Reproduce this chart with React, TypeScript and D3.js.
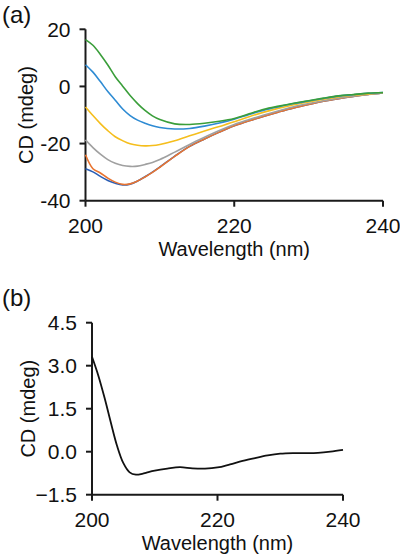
import React from "react";
import * as d3 from "d3";

const wlA = [200, 201, 202, 203, 204, 205, 206, 207, 208, 209, 210, 212, 214, 216, 218, 220, 222, 224, 226, 228, 230, 232, 234, 236, 238, 240];
const darkBlue = [-28.8, -29.9, -31.5, -32.9, -33.9, -34.5, -34.2, -33.1, -31.6, -30.0, -28.2, -24.4, -21.0, -18.4, -16.0, -13.8, -12.0, -10.4, -8.9, -7.5, -6.3, -5.2, -4.3, -3.5, -2.8, -2.3];
const orange = [-23.9, -28.8, -30.3, -32.1, -33.5, -34.3, -34.1, -33.1, -31.7, -30.1, -28.3, -24.5, -21.0, -18.4, -16.0, -13.8, -12.0, -10.4, -8.9, -7.5, -6.3, -5.2, -4.3, -3.5, -2.8, -2.3];
const gray = [-18.7, -21.4, -23.7, -25.6, -26.9, -27.7, -28.0, -27.9, -27.3, -26.6, -25.6, -23.0, -20.3, -17.8, -15.4, -13.3, -11.6, -10.0, -8.5, -7.1, -6.0, -5.0, -4.1, -3.4, -2.8, -2.3];
const yellow = [-7.2, -10.2, -13.0, -15.5, -17.6, -19.0, -20.1, -20.6, -20.8, -20.7, -20.3, -19.0, -17.3, -15.6, -14.0, -12.4, -10.6, -9.0, -7.6, -6.4, -5.4, -4.5, -3.7, -3.1, -2.6, -2.2];
const lightBlue = [7.6, 5.0, 1.7, -1.8, -4.8, -7.9, -10.2, -11.8, -12.9, -13.8, -14.4, -14.9, -14.7, -13.9, -12.8, -11.5, -9.8, -8.3, -7.1, -6.0, -5.1, -4.2, -3.4, -2.9, -2.4, -2.1];
const green = [16.4, 14.4, 11.2, 7.5, 3.4, 0.1, -3.2, -6.0, -8.4, -10.3, -11.6, -13.1, -13.3, -12.9, -12.2, -11.2, -9.6, -8.0, -6.9, -5.9, -5.0, -4.1, -3.3, -2.8, -2.35, -2.1];

const seriesA = [
  { name: "s1", values: darkBlue, color: "#2c5fb5" },
  { name: "s2", values: orange, color: "#e87430" },
  { name: "s3", values: gray, color: "#a0a0a0" },
  { name: "s4", values: yellow, color: "#f5be1d" },
  { name: "s5", values: lightBlue, color: "#2e8bd3" },
  { name: "s6", values: green, color: "#3a9e3a" },
];

const wlB = [200, 201, 202, 203, 204, 205, 206, 207, 208, 209, 210, 212, 214, 216, 218, 220, 222, 224, 226, 228, 230, 232, 234, 236, 238, 240];
const diffB = [3.31, 2.66, 1.88, 1.02, 0.2, -0.4, -0.72, -0.8, -0.77, -0.71, -0.66, -0.59, -0.54, -0.58, -0.59, -0.55, -0.44, -0.32, -0.22, -0.13, -0.07, -0.05, -0.05, -0.04, 0.0, 0.06];

const xTicks = [200, 220, 240];
const yTicksA = [-40, -20, 0, 20];
const yTicksB = [-1.5, 0, 1.5, 3.0, 4.5];

const FONT = "'Liberation Sans', Arial, sans-serif";
const AX = "#1a1a1a";

function Panel({ xs, ys, yTicks, fmt, letter, letterY, titleCx, children }: any) {
  const [x0, x1] = xs.range();
  const [y0, y1] = ys.range();
  return (
    <g>
      <text x={2} y={letterY} fontSize={24} fontFamily={FONT} fill="#111">{letter}</text>
      <line x1={x0} x2={x0} y1={y1} y2={y0} stroke={AX} strokeWidth={2} />
      <line x1={x0} x2={x1} y1={y0} y2={y0} stroke={AX} strokeWidth={2} />
      {yTicks.map((t: number) => (
        <g key={"y" + t}>
          <line x1={x0 - 6} x2={x0} y1={ys(t)} y2={ys(t)} stroke={AX} strokeWidth={2} />
          <text x={x0 - 15} y={ys(t)} dy="0.35em" textAnchor="end" fontSize={21} fontFamily={FONT} fill="#111">{fmt(t)}</text>
        </g>
      ))}
      {xTicks.map((t) => (
        <g key={"x" + t}>
          <line x1={xs(t)} x2={xs(t)} y1={y0} y2={y0 + 6} stroke={AX} strokeWidth={2} />
          <text x={xs(t)} y={y0 + 32} textAnchor="middle" fontSize={21} fontFamily={FONT} fill="#111">{t}</text>
        </g>
      ))}
      <text x={(x0 + x1) / 2} y={y0 + 55} textAnchor="middle" fontSize={20} fontFamily={FONT} fill="#111">Wavelength (nm)</text>
      <text transform={`translate(${titleCx},${(y0 + y1) / 2}) rotate(-90)`} textAnchor="middle" fontSize={20} fontFamily={FONT} fill="#111">CD (mdeg)</text>
      {children}
    </g>
  );
}

export default function App() {
  const xA = d3.scaleLinear().domain([200, 240]).range([85.5, 383]);
  const yA = d3.scaleLinear().domain([-40, 20]).range([200.7, 29.3]);
  const xB = d3.scaleLinear().domain([200, 240]).range([92, 343]);
  const yB = d3.scaleLinear().domain([-1.5, 4.5]).range([494.7, 322.7]);

  const curve = d3.curveCatmullRom.alpha(0.5);
  const lineA = (vals: number[]) =>
    d3.line<number>().x((_, i) => xA(wlA[i])).y((v) => yA(v)).curve(curve)(vals) || "";
  const lineB = d3.line<number>().x((_, i) => xB(wlB[i])).y((v) => yB(v)).curve(curve)(diffB) || "";

  return (
    <svg width={400} height={557} style={{ position: "absolute", left: 0, top: 0, background: "#fff" }}>
      <rect width={400} height={557} fill="#fff" />
      <Panel xs={xA} ys={yA} yTicks={yTicksA} fmt={(t: number) => String(t)} letter="(a)" letterY={23} titleCx={33}>
        {seriesA.map((s) => (
          <path key={s.name} d={lineA(s.values)} fill="none" stroke={s.color} strokeWidth={1.6} />
        ))}
      </Panel>
      <Panel xs={xB} ys={yB} yTicks={yTicksB} fmt={d3.format(".1f")} letter="(b)" letterY={306} titleCx={35}>
        <path d={lineB} fill="none" stroke="#111" strokeWidth={1.8} />
      </Panel>
    </svg>
  );
}
